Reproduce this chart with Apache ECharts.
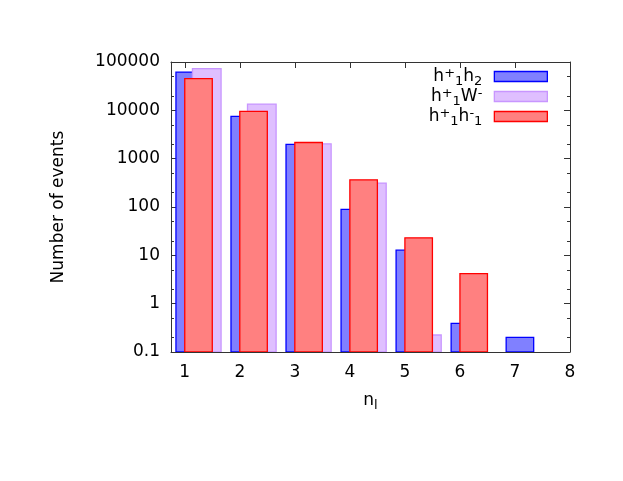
<!DOCTYPE html>
<html><head><meta charset="utf-8">
<script src="https://cdn.jsdelivr.net/npm/echarts@6/dist/echarts.min.js"></script>
<style>html,body{margin:0;padding:0;background:#fff}#c{width:623px;height:481px}</style>
</head><body><div id="c"></div>
<script>
// ---- data ----
const nValues = [1, 2, 3, 4, 5, 6, 7];
const seriesNames = ['h+1h2', 'h+1W-', 'h+1h-1'];
const blueH1H2 = [62000, 7480, 1970, 89, 12.8, 0.39, 0.2];
const pinkH1W = [72800, 13500, 2030, 312, 0.225, null, null];
const redH1H1 = [45100, 9480, 2160, 365, 23, 4.2, null];
const xTicks = [1, 2, 3, 4, 5, 6, 7, 8];
const yMajorTicks = [0.1, 1, 10, 100, 1000, 10000, 100000];
const yMinorTicks = [0.2, 0.5, 2, 5, 20, 50, 200, 500, 2000, 5000, 20000, 50000];
const yName = 'Number of events';

// ---- chart ----
const FONT = 'DejaVu Sans';
const FS = 17;
const SFS = 13;
const AX = '#333';
const yMin = 0.1, yMax = 100000;

function pairs(vals) {
  const out = [];
  vals.forEach((v, i) => { if (v != null) out.push([nValues[i], v]); });
  return out;
}
function makeRender(off0, off1, fill, stroke) {
  return function (params, api) {
    const n = api.value(0), v = api.value(1);
    const p0 = api.coord([n + off0, v]);
    const p1 = api.coord([n + off1, yMin]);
    return {
      type: 'rect',
      shape: { x: p0[0], y: p0[1], width: p1[0] - p0[0], height: p1[1] - p0[1] },
      style: { fill: fill, stroke: stroke, lineWidth: 1.3 }
    };
  };
}
const richLegend = {
  n: { fontSize: FS, fontFamily: FONT, color: '#000', lineHeight: 20 },
  sp: { fontSize: SFS, fontFamily: FONT, color: '#000', lineHeight: 14, padding: [0, 0, 6, 0] },
  sb: { fontSize: SFS, fontFamily: FONT, color: '#000', lineHeight: 14, padding: [10, 0, 0, 0] },
  sbl: { fontSize: SFS, fontFamily: FONT, color: '#000', lineHeight: 14, padding: [10, 7, 0, 0] },
  spl: { fontSize: SFS, fontFamily: FONT, color: '#000', lineHeight: 14, padding: [0, 7, 6, 0] }
};
const legendText = {
  'h+1h2': '{n|h}{sp|+}{sb|1}{n|h}{sbl|2}',
  'h+1W-': '{n|h}{sp|+}{sb|1}{n|W}{spl|-}',
  'h+1h-1': '{n|h}{sp|+}{sb|1}{n|h}{sp|-}{sbl|1}'
};
const styles = [
  { fill: '#8080ff', stroke: '#0000ff' },
  { fill: '#dfbfff', stroke: '#c896ff' },
  { fill: '#ff8080', stroke: '#ff0000' }
];
const legendTops = [65, 85, 105];
const legends = seriesNames.map((nm, i) => ({
  data: [{ name: nm, itemStyle: { color: styles[i].fill, borderColor: styles[i].stroke, borderWidth: 1.3 } }],
  right: 75, top: legendTops[i], orient: 'vertical',
  icon: 'rect', itemWidth: 53, itemHeight: 10, align: 'right',
  padding: 0, selectedMode: false,
  formatter: name => legendText[name],
  textStyle: { rich: richLegend }
}));

const axisLineStyle = { color: AX, width: 1 };
const yBase = { type: 'log', logBase: 10, min: yMin, max: yMax, splitLine: { show: false } };
const xBase = { type: 'value', min: 0.75, max: 8, splitLine: { show: false } };

const option = {
  animation: false,
  backgroundColor: '#fff',
  grid: { left: 171, right: 53, top: 62, bottom: 129 },
  legend: legends,
  xAxis: [
    Object.assign({}, xBase, {
      position: 'bottom',
      axisLine: { show: true, lineStyle: axisLineStyle },
      axisTick: { show: true, inside: true, length: 6, customValues: xTicks, lineStyle: axisLineStyle },
      axisLabel: { customValues: xTicks, margin: 12, fontSize: FS, fontFamily: FONT, color: '#000' },
      name: '{n|n}{s|l}', nameLocation: 'middle', nameGap: 38,
      nameTextStyle: { rich: {
        n: { fontSize: FS, fontFamily: FONT, color: '#000' },
        s: { fontSize: SFS, fontFamily: FONT, color: '#000', padding: [9, 0, 0, 0] } } }
    }),
    Object.assign({}, xBase, {
      position: 'top',
      axisLine: { show: true, lineStyle: axisLineStyle },
      axisTick: { show: true, inside: true, length: 6, customValues: xTicks, lineStyle: axisLineStyle },
      axisLabel: { show: false }
    })
  ],
  yAxis: [
    Object.assign({}, yBase, {
      position: 'left',
      axisLine: { show: true, lineStyle: axisLineStyle },
      axisTick: { show: true, inside: true, length: 6, customValues: yMajorTicks, lineStyle: axisLineStyle },
      axisLabel: { customValues: yMajorTicks, margin: 11, fontSize: FS, fontFamily: FONT, color: '#000',
        formatter: v => String(+(+v).toPrecision(6)) },
      name: yName, nameLocation: 'middle', nameGap: 104, nameRotate: 90,
      nameTextStyle: { fontSize: FS, fontFamily: FONT, color: '#000' }
    }),
    Object.assign({}, yBase, {
      position: 'left',
      axisLine: { show: false },
      axisTick: { show: true, inside: true, length: 3, customValues: yMinorTicks, lineStyle: axisLineStyle },
      axisLabel: { show: false }
    }),
    Object.assign({}, yBase, {
      position: 'right',
      axisLine: { show: true, lineStyle: axisLineStyle },
      axisTick: { show: true, inside: true, length: 6, customValues: yMajorTicks, lineStyle: axisLineStyle },
      axisLabel: { show: false }
    }),
    Object.assign({}, yBase, {
      position: 'right',
      axisLine: { show: false },
      axisTick: { show: true, inside: true, length: 3, customValues: yMinorTicks, lineStyle: axisLineStyle },
      axisLabel: { show: false }
    })
  ],
  series: [
    { name: seriesNames[0], type: 'custom', data: pairs(blueH1H2), clip: true, z: 2,
      itemStyle: { color: styles[0].fill },
      renderItem: makeRender(-0.16, 0.34, styles[0].fill, styles[0].stroke) },
    { name: seriesNames[1], type: 'custom', data: pairs(pinkH1W), clip: true, z: 3,
      itemStyle: { color: styles[1].fill },
      renderItem: makeRender(0.14, 0.66, styles[1].fill, styles[1].stroke) },
    { name: seriesNames[2], type: 'custom', data: pairs(redH1H1), clip: true, z: 4,
      itemStyle: { color: styles[2].fill },
      renderItem: makeRender(0.0, 0.5, styles[2].fill, styles[2].stroke) }
  ]
};
const chart = echarts.init(document.getElementById('c'), null, { renderer: 'canvas' });
chart.setOption(option);
</script></body></html>
